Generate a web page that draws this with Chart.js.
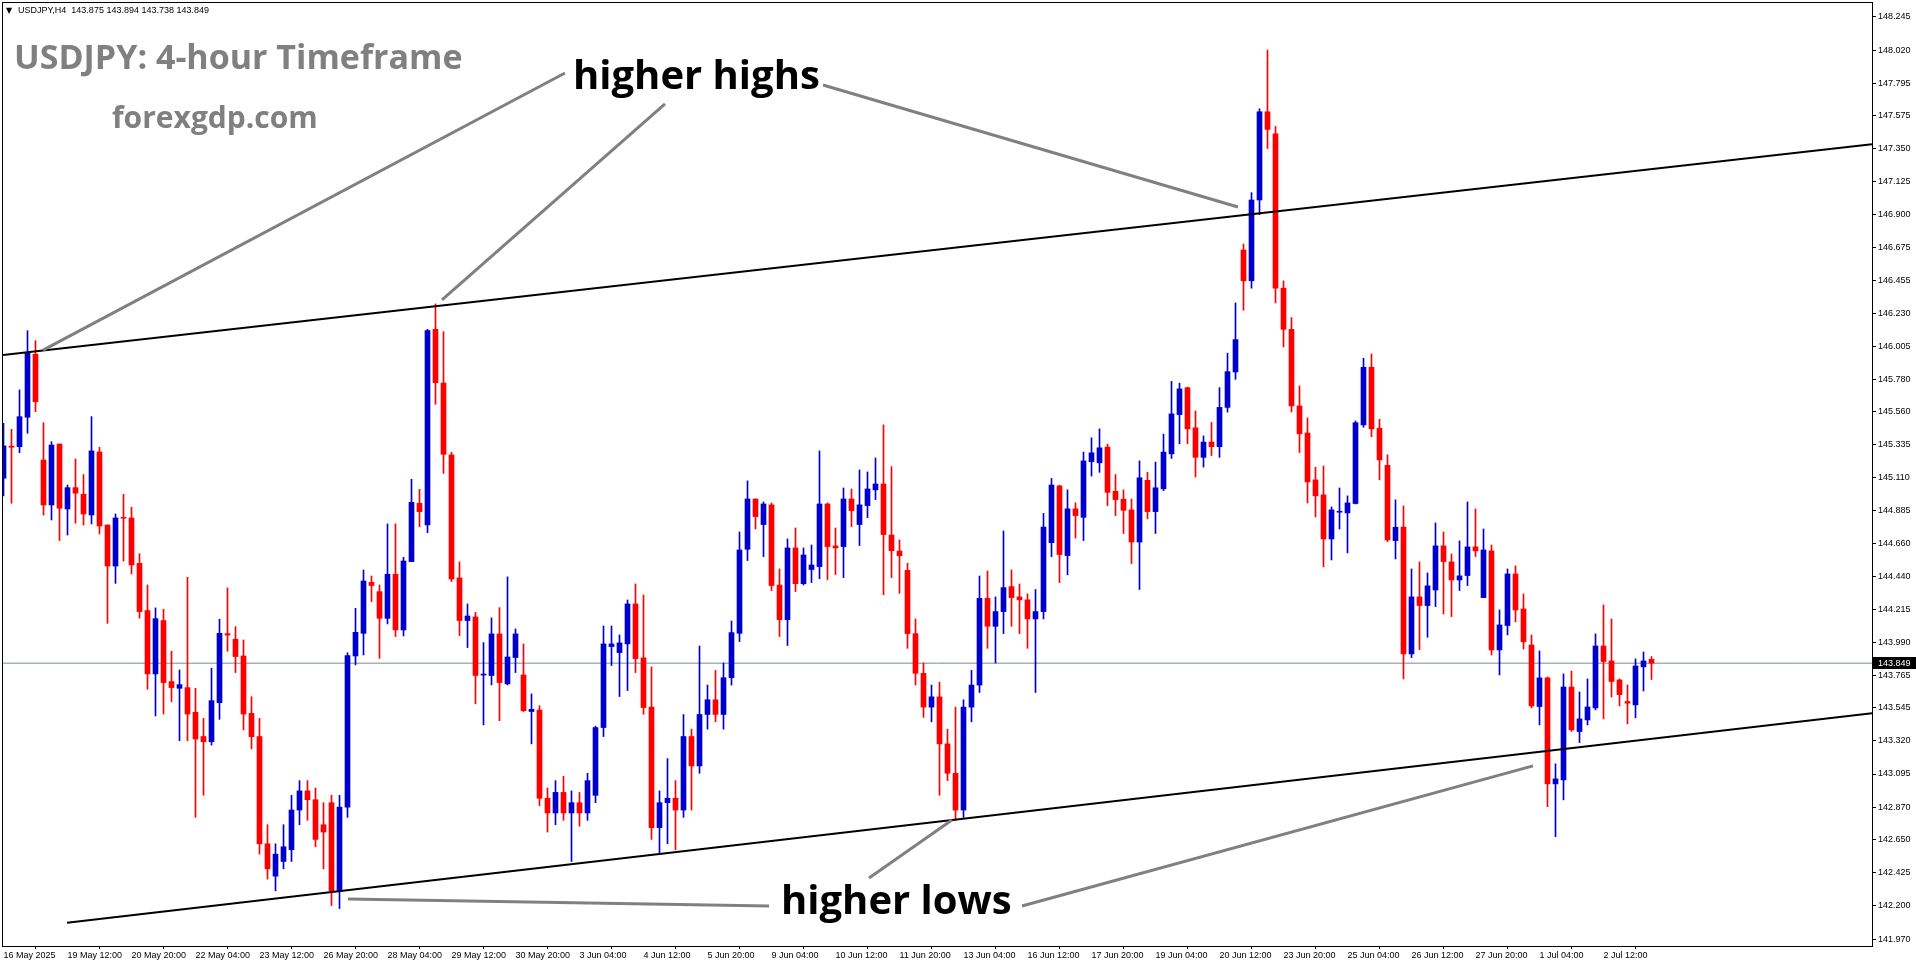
<!DOCTYPE html>
<html><head><meta charset="utf-8">
<script src="https://cdn.jsdelivr.net/npm/chart.js@4.4.1/dist/chart.umd.min.js"></script>
<style>html,body{margin:0;padding:0;background:#fff;overflow:hidden}canvas{display:block}</style>
</head><body>
<canvas id="c" width="1916" height="964"></canvas>
<script>
// ---- data (USDJPY H4) ----
const opens=[145.107,145.325,145.322,145.522,145.950,145.231,144.925,145.340,144.898,145.043,
144.998,144.857,145.286,144.789,144.510,144.838,144.837,144.528,144.207,143.776,
144.139,143.724,143.678,143.683,143.515,143.350,143.315,143.580,144.050,144.012,
143.898,143.508,143.350,142.620,142.400,142.500,142.580,142.850,142.980,142.920,
142.750,142.900,142.300,142.870,143.898,144.052,144.399,144.336,144.154,144.454,
144.075,144.540,144.937,144.789,146.120,145.755,145.266,144.429,144.139,144.164,
143.768,143.765,144.048,143.708,143.887,143.769,143.520,143.530,142.930,142.830,
142.970,142.830,142.900,142.830,142.950,143.411,143.962,143.921,143.980,144.252,
143.885,143.550,142.730,142.900,142.930,142.850,143.350,143.150,143.500,143.600,
143.500,143.750,144.052,144.624,144.966,144.792,144.926,144.381,144.145,144.633,
144.390,144.486,144.506,144.932,144.647,144.642,144.966,144.792,144.921,145.028,
145.068,144.721,144.612,144.480,144.050,143.780,143.550,143.620,143.300,143.100,
142.850,143.550,143.700,144.290,144.100,144.200,144.370,144.300,144.280,144.150,
144.200,144.669,145.055,144.581,144.899,144.841,145.220,145.212,145.319,145.018,
144.965,144.892,144.673,145.093,144.880,145.035,145.273,145.540,145.723,145.450,
145.249,145.353,145.322,145.589,145.830,146.660,146.450,147.000,147.600,147.450,
146.400,146.120,145.599,145.415,145.096,144.994,144.694,144.876,144.871,144.935,
145.470,145.862,145.447,145.195,144.683,144.774,143.912,144.300,144.241,144.347,
144.647,144.538,144.415,144.445,144.640,144.295,144.613,143.939,144.105,144.456,
144.218,143.973,143.554,143.749,143.028,143.055,143.687,143.384,143.463,143.545,
143.966,143.864,143.735,143.588,143.565,143.824,143.875];
const highs=[145.481,145.440,145.708,146.111,146.043,145.485,145.356,145.340,145.061,145.238,
145.132,145.526,145.318,144.789,144.864,144.998,144.909,144.594,144.381,144.225,
144.216,143.930,143.803,144.433,143.678,143.474,143.815,144.148,144.361,144.098,
144.007,143.621,143.474,142.750,142.620,142.750,142.950,143.050,143.050,143.000,
142.900,142.950,142.950,143.920,144.222,144.483,144.442,144.381,144.796,144.796,
144.569,145.100,145.032,146.120,146.293,146.104,145.284,144.538,144.252,144.195,
143.989,144.157,144.227,144.436,144.082,143.980,143.640,143.560,143.000,143.050,
143.080,142.980,142.970,143.100,143.420,144.102,144.102,144.041,144.279,144.388,
144.313,143.824,142.980,143.200,143.050,143.500,143.400,143.966,143.700,143.800,
143.850,144.136,144.742,145.089,144.966,144.946,144.939,144.490,144.694,144.769,
144.633,144.653,145.293,144.939,144.769,145.041,145.034,145.164,145.150,145.245,
145.470,145.186,144.687,144.528,144.150,143.850,143.700,143.720,143.400,143.550,
143.600,143.800,144.442,144.476,144.300,144.748,144.483,144.388,144.320,144.350,
144.868,145.106,145.060,145.028,144.940,145.285,145.382,145.443,145.339,145.132,
145.028,144.965,145.225,145.147,145.217,145.407,145.766,145.754,145.727,145.565,
145.395,145.487,145.723,145.958,146.300,146.700,147.050,147.620,148.020,147.500,
146.450,146.200,145.735,145.517,145.182,145.191,144.912,145.041,144.987,145.497,
145.923,145.953,145.508,145.266,144.960,144.919,144.490,144.538,144.463,144.803,
144.742,144.592,144.681,144.946,144.898,144.762,144.653,144.211,144.490,144.511,
144.320,144.041,143.932,143.755,143.164,143.776,143.796,143.653,143.742,144.048,
144.245,144.150,143.742,143.701,143.878,143.925,143.894];
const lows=[144.987,144.937,145.281,145.413,145.560,144.857,144.823,144.683,144.721,144.801,
144.789,144.796,144.728,144.120,144.392,144.544,144.456,144.155,143.671,143.490,
143.503,143.587,143.322,143.322,142.800,142.950,143.292,143.467,143.930,143.785,
143.395,143.266,142.550,142.380,142.300,142.450,142.500,142.750,142.780,142.600,
142.450,142.200,142.180,142.800,143.837,143.905,144.268,143.882,144.116,144.030,
144.034,144.540,144.778,144.737,145.610,145.140,144.404,144.037,143.955,143.572,
143.429,143.701,143.458,143.701,143.785,143.520,143.300,142.880,142.700,142.750,
142.780,142.500,142.740,142.780,142.900,143.350,143.833,143.622,143.663,143.785,
143.501,142.650,142.550,142.620,142.580,142.800,142.850,143.100,143.400,143.450,
143.400,143.700,143.996,144.547,144.762,144.574,144.343,144.030,143.969,144.336,
144.381,144.397,144.424,144.418,144.452,144.431,144.778,144.649,144.839,144.962,
144.315,144.431,144.324,143.950,143.700,143.480,143.450,142.950,143.050,142.780,
142.800,143.450,143.650,143.950,143.850,144.050,144.100,144.050,143.950,143.650,
144.150,144.574,144.397,144.450,144.700,144.683,145.122,145.147,144.921,144.853,
144.731,144.527,144.350,144.831,144.731,145.023,145.242,145.341,145.341,145.115,
145.183,145.261,145.249,145.557,145.780,146.250,146.400,146.900,147.350,146.300,
146.000,145.558,145.282,144.939,144.844,144.504,144.551,144.762,144.599,144.932,
145.454,145.390,145.096,144.676,144.558,143.742,143.887,143.941,144.025,144.234,
144.184,144.166,144.343,144.377,144.574,144.295,143.905,143.769,144.041,144.130,
143.946,143.545,143.429,142.873,142.669,142.919,143.384,143.309,143.429,143.531,
143.470,143.619,143.558,143.436,143.477,143.660,143.738];
const closes=[145.327,145.318,145.526,145.957,145.628,144.925,145.333,144.903,145.043,145.005,
144.864,145.293,144.782,144.510,144.837,144.835,144.517,144.200,143.776,144.152,
143.717,143.683,143.703,143.503,143.333,143.315,143.594,144.052,144.040,143.894,
143.503,143.349,142.620,142.450,142.550,142.600,142.850,142.980,142.920,142.650,
142.700,142.300,142.870,143.900,144.059,144.408,144.377,144.154,144.454,144.075,
144.544,144.943,144.880,146.111,145.757,145.270,144.422,144.139,144.170,143.765,
143.770,144.048,143.717,143.891,144.048,143.526,143.535,142.930,142.830,142.970,
142.830,142.900,142.830,143.050,143.411,143.980,143.980,143.987,144.252,143.880,
143.547,142.730,142.900,142.930,142.850,143.350,143.150,143.500,143.600,143.500,
143.750,144.057,144.619,144.966,144.846,144.932,144.377,144.145,144.633,144.390,
144.585,144.517,144.932,144.642,144.633,144.966,144.887,144.926,145.034,145.068,
144.724,144.614,144.580,144.050,143.780,143.550,143.620,143.300,143.100,142.850,
143.550,143.700,144.290,144.100,144.200,144.363,144.295,144.280,144.150,144.200,
144.775,145.061,144.588,144.899,144.853,145.225,145.280,145.314,145.011,144.962,
144.889,144.673,145.110,144.880,145.042,145.285,145.545,145.715,145.443,145.249,
145.353,145.322,145.589,145.832,146.050,146.450,147.000,147.600,147.480,146.400,
146.120,145.599,145.409,145.082,144.987,144.694,144.892,144.880,144.939,145.485,
145.862,145.443,145.232,144.687,144.774,143.912,144.300,144.241,144.375,144.647,
144.540,144.415,144.443,144.640,144.613,144.619,143.939,144.109,144.456,144.211,
143.994,143.558,143.749,143.028,143.062,143.687,143.395,143.470,143.551,143.966,
143.860,143.724,143.635,143.577,143.830,143.864,143.849];

const timeLabels=["16 May 2025","19 May 12:00","20 May 20:00","22 May 04:00","23 May 12:00","26 May 20:00",
"28 May 04:00","29 May 12:00","30 May 20:00","3 Jun 04:00","4 Jun 12:00","5 Jun 20:00","9 Jun 04:00",
"10 Jun 12:00","11 Jun 20:00","13 Jun 04:00","16 Jun 12:00","17 Jun 20:00","19 Jun 04:00","20 Jun 12:00",
"23 Jun 20:00","25 Jun 04:00","26 Jun 12:00","27 Jun 20:00","1 Jul 04:00","2 Jul 12:00"];
const timeLabelBars=[0,8,16,24,32,40,48,56,64,72,80,88,96,104,112,120,128,136,144,152,160,168,176,184,192,200];
const priceTicks=[148.245,148.020,147.795,147.575,147.350,147.125,146.900,146.675,146.455,146.230,146.005,
145.780,145.560,145.335,145.110,144.885,144.660,144.440,144.215,143.990,143.765,143.545,143.320,143.095,
142.870,142.650,142.425,142.200,141.970];
const lastPrice=143.849;
const headerText="USDJPY,H4  143.875 143.894 143.738 143.849";
const titleText="USDJPY: 4-hour Timeframe";
const siteText="forexgdp.com";
const highsText="higher highs";
const lowsText="higher lows";
// trend lines: [barIndexStart, priceStart, barIndexEnd, priceEnd]
const upperTrend=[-0.0625,145.945,233.5625,147.380];
const lowerTrend=[7.94,142.083,233.5625,143.508];
// callout lines from labels to touch points
const highCallouts=[[70.19,147.864,4.94,145.979],[82.69,147.653,54.81,146.320],[102.44,147.782,154.31,146.952]];
const lowCallouts=[[95.69,142.197,43.06,142.245],[108.19,142.388,118.56,142.782],[127.31,142.197,191.19,143.150]];

const X_MIN=-0.0625, X_MAX=233.5625, Y_MIN=141.925, Y_MAX=148.340;
const BULL='#0000CD', BEAR='#FF0000';

const idx=opens.map((_,i)=>i);
const candleColors=idx.map(i=>closes[i]>=opens[i]?BULL:BEAR);
const wickData=idx.map(i=>({x:i,y:[lows[i],highs[i]]}));
const bodyData=idx.map(i=>({x:i,y:[opens[i],closes[i]]}));
const seg=(a)=>[{x:a[0],y:a[1]},{x:a[2],y:a[3]}];
const lineDS=(a,color,w,order)=>({type:'line',data:seg(a),borderColor:color,borderWidth:w,pointRadius:0,fill:false,tension:0,order:order,borderCapStyle:'butt'});

const datasets=[
  lineDS([X_MIN,lastPrice,X_MAX,lastPrice],'#778899',1,10),
  {type:'bar',data:wickData,backgroundColor:candleColors,barThickness:1,grouped:false,order:6,minBarLength:1},
  {type:'bar',data:bodyData,backgroundColor:candleColors,barThickness:5,grouped:false,order:5,minBarLength:1},
  lineDS(upperTrend,'#000000',2,3),
  lineDS(lowerTrend,'#000000',2,3),
];
highCallouts.concat(lowCallouts).forEach(a=>datasets.push(lineDS(a,'#808080',3,1)));

const labelMap={}; timeLabelBars.forEach((b,k)=>labelMap[b]=timeLabels[k]);
const AXIS_FONT={family:'"Liberation Sans", Arial, sans-serif',size:9};

const overlay={
  id:'overlay',
  beforeDraw(chart){const c=chart.ctx;c.save();c.fillStyle='#fff';c.fillRect(0,0,chart.width,chart.height);c.restore();},
  afterDraw(chart){
    const c=chart.ctx, a=chart.chartArea, ys=chart.scales.y;
    c.save();
    c.strokeStyle='#000';c.lineWidth=1;
    c.strokeRect(a.left-0.5,a.top-0.5,a.right-a.left+1,a.bottom-a.top+1);
    // last price tag
    const py=Math.round(ys.getPixelForValue(lastPrice));
    c.fillStyle='#000';c.fillRect(a.right+1,py-6,chart.width-a.right-1,12);
    c.fillStyle='#fff';c.font='9px "Liberation Sans", Arial, sans-serif';c.textBaseline='middle';c.textAlign='left';
    c.fillText(lastPrice.toFixed(3),a.right+6,py+0.5);
    // header
    c.fillStyle='#000';
    c.font='8px "DejaVu Sans", sans-serif';c.fillText('\u25BC',6,11);
    c.font='9px "Liberation Sans", Arial, sans-serif';c.fillText(headerText,18,11);
    // titles
    c.fillStyle='#808080';c.textBaseline='alphabetic';
    c.font='bold 34px "Open Sans", sans-serif';c.fillText(titleText,14,69);
    c.font='bold 30px "Open Sans", sans-serif';c.fillText(siteText,112,128);
    c.fillStyle='#000';
    c.font='bold 40px "Open Sans", sans-serif';c.textBaseline='middle';
    c.fillText(highsText,573,78);
    c.fillText(lowsText,781,903);
    c.restore();
  }
};

new Chart(document.getElementById('c'),{
  type:'bar',
  data:{datasets},
  options:{
    responsive:false,animation:false,devicePixelRatio:1,
    layout:{padding:{left:3,top:3,right:0,bottom:0}},
    plugins:{legend:{display:false},tooltip:{enabled:false}},
    scales:{
      x:{type:'linear',min:X_MIN,max:X_MAX,position:'bottom',offset:false,
        grid:{display:true,drawOnChartArea:false,drawTicks:true,tickLength:3,color:'#000'},
        border:{display:true,color:'#000',width:1},
        afterBuildTicks:(s)=>{s.ticks=timeLabelBars.map(v=>({value:v}));},
        afterFit:(s)=>{s.height=18;s.paddingLeft=0;s.paddingRight=0;},
        ticks:{autoSkip:false,maxRotation:0,minRotation:0,align:'start',padding:1,color:'#000',font:AXIS_FONT,
          callback:(v)=>labelMap[v]||''}
      },
      y:{type:'linear',min:Y_MIN,max:Y_MAX,position:'right',
        grid:{display:true,drawOnChartArea:false,drawTicks:true,tickLength:4,color:'#000'},
        border:{display:true,color:'#000',width:1},
        afterBuildTicks:(s)=>{s.ticks=priceTicks.map(v=>({value:v}));},
        afterFit:(s)=>{s.width=44;s.paddingTop=0;s.paddingBottom=0;},
        ticks:{padding:2,color:'#000',font:AXIS_FONT,callback:(v)=>Number(v).toFixed(3)}
      }
    }
  },
  plugins:[overlay]
});
</script>
</body></html>
